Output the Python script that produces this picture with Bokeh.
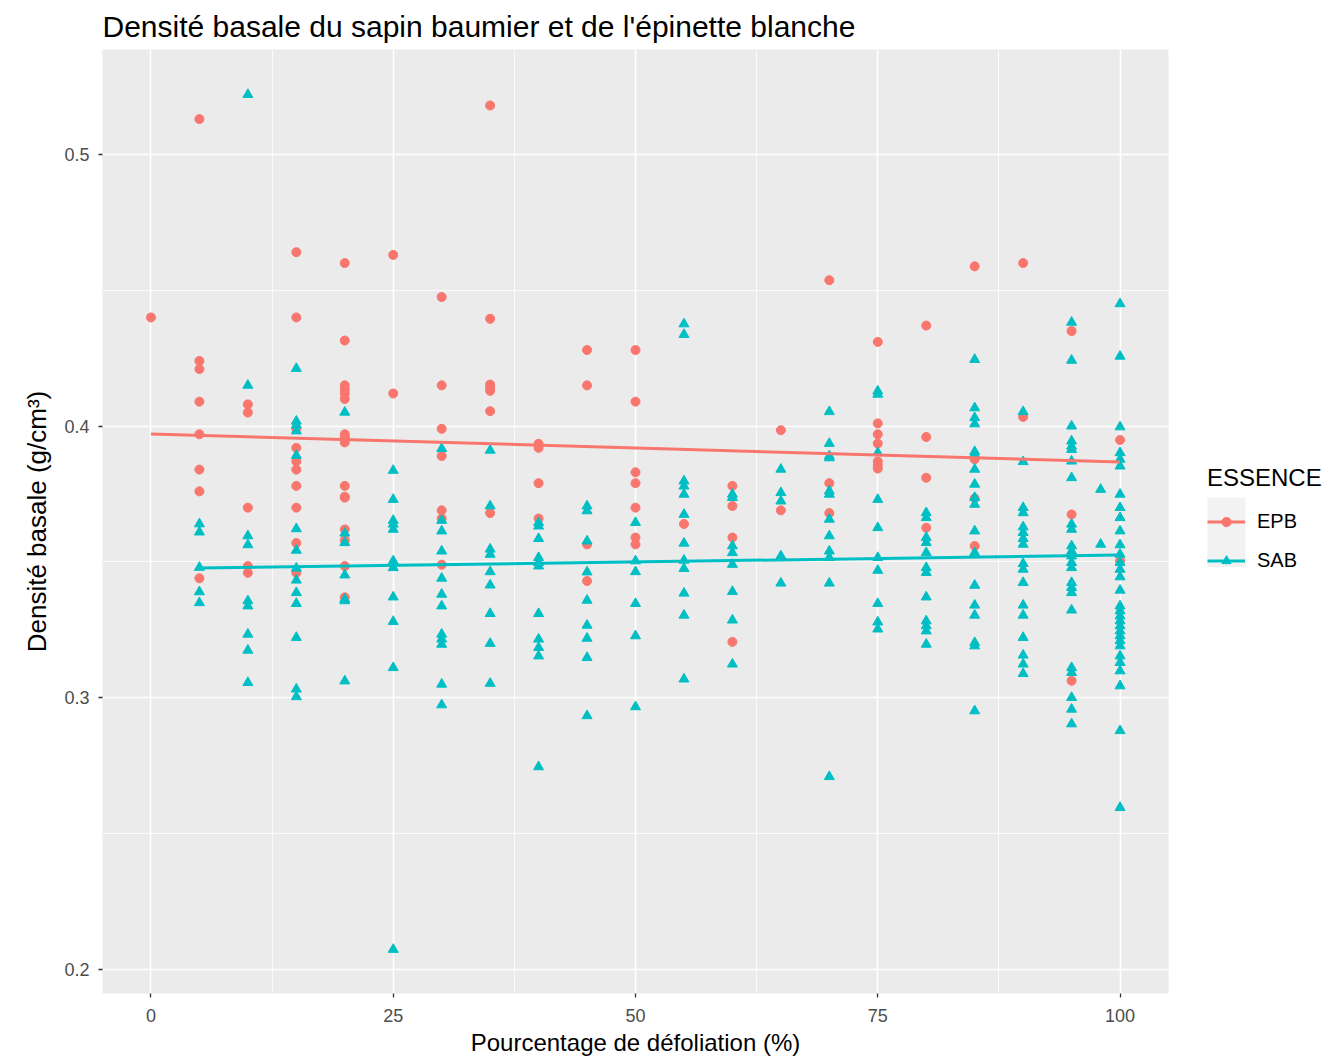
from bokeh.plotting import figure
from bokeh.models import FixedTicker, Legend, LegendItem, Range1d
from bokeh.layouts import row
from bokeh.embed import file_html
from bokeh.resources import INLINE

# ---------------- data ----------------
epb_levels = [0, 5, 10, 15, 20, 25, 30, 35, 40, 45, 50, 55, 60, 65, 70, 75, 80, 85, 90, 95, 100]
epb_dens = [
    [0.440],
    [0.513, 0.424, 0.421, 0.409, 0.397, 0.384, 0.376, 0.344],
    [0.408, 0.405, 0.370, 0.3485, 0.346],
    [0.464, 0.440, 0.399, 0.392, 0.387, 0.384, 0.378, 0.370, 0.357, 0.346],
    [0.460, 0.4315, 0.415, 0.4135, 0.412, 0.410, 0.397, 0.396, 0.394, 0.378, 0.374, 0.3737, 0.362, 0.358, 0.3485, 0.337],
    [0.463, 0.412],
    [0.4475, 0.415, 0.399, 0.389, 0.369, 0.366, 0.349],
    [0.518, 0.4395, 0.4153, 0.414, 0.413, 0.4055, 0.368],
    [0.3935, 0.392, 0.379, 0.366],
    [0.428, 0.415, 0.3565, 0.343],
    [0.428, 0.409, 0.383, 0.379, 0.370, 0.359, 0.3565],
    [0.364],
    [0.378, 0.3706, 0.359, 0.3206],
    [0.3985, 0.369],
    [0.4537, 0.379, 0.368],
    [0.431, 0.401, 0.397, 0.3936, 0.387, 0.3857, 0.3844],
    [0.437, 0.396, 0.381, 0.3626],
    [0.4588, 0.3878, 0.3734, 0.3559],
    [0.460, 0.4034],
    [0.435, 0.3675, 0.3063],
    [0.3949, 0.3504],
]

sab_levels = [5, 10, 15, 20, 25, 30, 35, 40, 45, 50, 55, 60, 65, 70, 75, 80, 85, 90, 95, 98, 100]
sab_dens = [
    [0.364, 0.361, 0.348, 0.339, 0.335],
    [0.522, 0.415, 0.3596, 0.3563, 0.3357, 0.3338, 0.3234, 0.3175, 0.3056],
    [0.4212, 0.4018, 0.4004, 0.3982, 0.3892, 0.3622, 0.3543, 0.3477, 0.3433, 0.3387, 0.3347, 0.3222, 0.3032, 0.3004],
    [0.4051, 0.3606, 0.3571, 0.3452, 0.3363, 0.3357, 0.3062],
    [0.3837, 0.3730, 0.3653, 0.3639, 0.3620, 0.3504, 0.3479, 0.3371, 0.3281, 0.3111, 0.2074],
    [0.3917, 0.3653, 0.3614, 0.3540, 0.3440, 0.3381, 0.3338, 0.3234, 0.3216, 0.3197, 0.3050, 0.2974],
    [0.3911, 0.3706, 0.3547, 0.3528, 0.3464, 0.3415, 0.3310, 0.3200, 0.3053],
    [0.3645, 0.3632, 0.3586, 0.3516, 0.3498, 0.3485, 0.3310, 0.3216, 0.3185, 0.3154, 0.2746],
    [0.3706, 0.3688, 0.3577, 0.3463, 0.3359, 0.3267, 0.3219, 0.3148, 0.2934],
    [0.3645, 0.3504, 0.3464, 0.3347, 0.3228, 0.2967],
    [0.4376, 0.4337, 0.3798, 0.3779, 0.3749, 0.3675, 0.3569, 0.3506, 0.3476, 0.3385, 0.3304, 0.3069],
    [0.3749, 0.3737, 0.3559, 0.3534, 0.3491, 0.3391, 0.3286, 0.3124],
    [0.3841, 0.3755, 0.3724, 0.3522, 0.3422],
    [0.4053, 0.3936, 0.3890, 0.3883, 0.3761, 0.3749, 0.3657, 0.3596, 0.3540, 0.3516, 0.3422, 0.2710],
    [0.4129, 0.4117, 0.3902, 0.3730, 0.3626, 0.3516, 0.3469, 0.3347, 0.3279, 0.3253],
    [0.3681, 0.3663, 0.3590, 0.3571, 0.3534, 0.3479, 0.3461, 0.3371, 0.3283, 0.3265, 0.3246, 0.3197],
    [0.4245, 0.4067, 0.4031, 0.4008, 0.3906, 0.3896, 0.3841, 0.3786, 0.3737, 0.3712, 0.3614, 0.3534,
     0.3528, 0.3414, 0.3341, 0.3304, 0.3203, 0.3191, 0.2952],
    [0.4053, 0.3869, 0.3700, 0.3681, 0.3629, 0.3608, 0.3586, 0.3565, 0.3494, 0.3473, 0.3424, 0.3341,
     0.3304, 0.3222, 0.3157, 0.3124, 0.3089],
    [0.4382, 0.4242, 0.4000, 0.3945, 0.3926, 0.3914, 0.3871, 0.3810, 0.3639, 0.3620, 0.3559, 0.3540,
     0.3522, 0.3498, 0.3479, 0.3424, 0.3406, 0.3387, 0.3323, 0.3111, 0.3093, 0.3001, 0.2958, 0.2904],
    [0.3767, 0.3565],
    [0.4450, 0.4257, 0.3997, 0.3902, 0.3878, 0.3853, 0.3749, 0.3700, 0.3663, 0.3614, 0.3563, 0.3528,
     0.3498, 0.3473, 0.3445, 0.3396, 0.3338, 0.3320, 0.3301, 0.3283, 0.3265, 0.3246, 0.3228, 0.3210,
     0.3191, 0.3154, 0.3130, 0.3099, 0.3044, 0.2879, 0.2596],
]

# linear-fit lines (intercept, slope) and their x-extent
epb_fit = (0.3971, -0.000103)
sab_fit = (0.3475, 0.0000505)
epb_fit_x = [0, 100]
sab_fit_x = [5, 100]

x_ticks = [0, 25, 50, 75, 100]
y_ticks = [0.2, 0.3, 0.4, 0.5]
species = ["EPB", "SAB"]

EPB_COL = "#F8766D"
SAB_COL = "#00BFC4"
FONT = "Liberation Sans"


def flatten(levels, groups):
    xs, ys = [], []
    for lv, g in zip(levels, groups):
        for v in g:
            xs.append(lv)
            ys.append(v)
    return xs, ys


epb_x, epb_y = flatten(epb_levels, epb_dens)
sab_x, sab_y = flatten(sab_levels, sab_dens)

MAIN_W = 1190
p = figure(width=MAIN_W, height=1058, output_backend="svg", toolbar_location=None,
           x_range=Range1d(-5, 105), y_range=Range1d(0.1912, 0.5386),
           min_border_left=102, min_border_right=MAIN_W - 1168, min_border_top=48, min_border_bottom=65)

p.background_fill_color = "#EBEBEB"
p.border_fill_color = "white"
p.outline_line_color = None

# grids
p.xaxis.ticker = FixedTicker(ticks=x_ticks, minor_ticks=[12.5, 37.5, 62.5, 87.5])
p.yaxis.ticker = FixedTicker(ticks=y_ticks, minor_ticks=[0.25, 0.35, 0.45])
for g in (p.xgrid, p.ygrid):
    g.grid_line_color = "white"
    g.grid_line_width = 1.6
    g.minor_grid_line_color = "white"
    g.minor_grid_line_width = 0.8

# axes
for ax in (p.xaxis, p.yaxis):
    ax.axis_line_color = None
    ax.major_tick_line_color = "#333333"
    ax.major_tick_line_width = 1.3
    ax.major_tick_out = 4
    ax.major_tick_in = 0
    ax.minor_tick_line_color = None
    ax.major_label_text_color = "#4D4D4D"
    ax.major_label_text_font = FONT
    ax.major_label_text_font_size = "18px"
    ax.axis_label_text_font = FONT
    ax.axis_label_text_font_size = "24px"
    ax.axis_label_text_font_style = "normal"
    ax.axis_label_text_color = "black"
p.xaxis.axis_label = "Pourcentage de défoliation (%)"
p.yaxis.axis_label = "Densité basale (g/cm³)"
p.yaxis.axis_label_text_font_size = "26px"
p.xaxis.major_label_standoff = 11
p.xaxis.axis_label_standoff = 4
p.yaxis.major_label_standoff = 9
p.yaxis.axis_label_standoff = 9

# title
p.title.text = "Densité basale du sapin baumier et de l'épinette blanche"
p.title.text_font = FONT
p.title.text_font_size = "30px"
p.title.text_font_style = "normal"
p.title.text_color = "black"
p.title.align = "left"
p.title.offset = 0
p.title.standoff = 14

# points
p.scatter(epb_x, epb_y, marker="circle", size=9, color=EPB_COL)
p.scatter(sab_x, sab_y, marker="triangle", size=10, color=SAB_COL)

# fit lines
epb_fit_y = [epb_fit[0] + epb_fit[1] * x for x in epb_fit_x]
sab_fit_y = [sab_fit[0] + sab_fit[1] * x for x in sab_fit_x]
p.line(epb_fit_x, epb_fit_y, line_color=EPB_COL, line_width=3)
p.line(sab_fit_x, sab_fit_y, line_color=SAB_COL, line_width=3)

# ---------------- legend panel (separate narrow figure, pixel coordinates) ----------------
LEG_W = 1325 - MAIN_W
lg = figure(width=LEG_W, height=1058, output_backend="svg", toolbar_location=None,
            x_range=Range1d(0, LEG_W), y_range=Range1d(1058, 0),
            min_border_left=0, min_border_right=0, min_border_top=0, min_border_bottom=0)
lg.axis.visible = False
lg.grid.visible = False
lg.outline_line_color = None
lg.background_fill_color = "white"
lg.border_fill_color = "white"

# grey key background
lg.quad(left=[17], right=[55], top=[502], bottom=[580], fill_color="#F2F2F2", line_color=None)

# legend proxies, placed off the visible canvas
off = [-500, -400]
l_epb = lg.line(off, off, line_color=EPB_COL, line_width=3)
s_epb = lg.scatter(off, off, marker="circle", size=9, color=EPB_COL)
l_sab = lg.line(off, off, line_color=SAB_COL, line_width=3)
s_sab = lg.scatter(off, off, marker="triangle", size=10, color=SAB_COL)

legend = Legend(items=[
    LegendItem(label=species[0], renderers=[l_epb, s_epb]),
    LegendItem(label=species[1], renderers=[l_sab, s_sab]),
], location=(17, 413))
legend.title = "ESSENCE"
legend.title_text_font = FONT
legend.title_text_font_size = "24px"
legend.title_text_font_style = "normal"
legend.title_text_color = "black"
legend.title_standoff = 10
legend.label_text_font = FONT
legend.label_text_font_size = "20px"
legend.label_text_color = "black"
legend.glyph_width = 38
legend.glyph_height = 23
legend.label_height = 39
legend.spacing = 0
legend.padding = 0
legend.margin = 0
legend.label_standoff = 12
legend.background_fill_alpha = 0
legend.border_line_color = None
lg.add_layout(legend, "center")

layout = row(p, lg, spacing=0)
open("out.html", "w").write(file_html(layout, INLINE))
